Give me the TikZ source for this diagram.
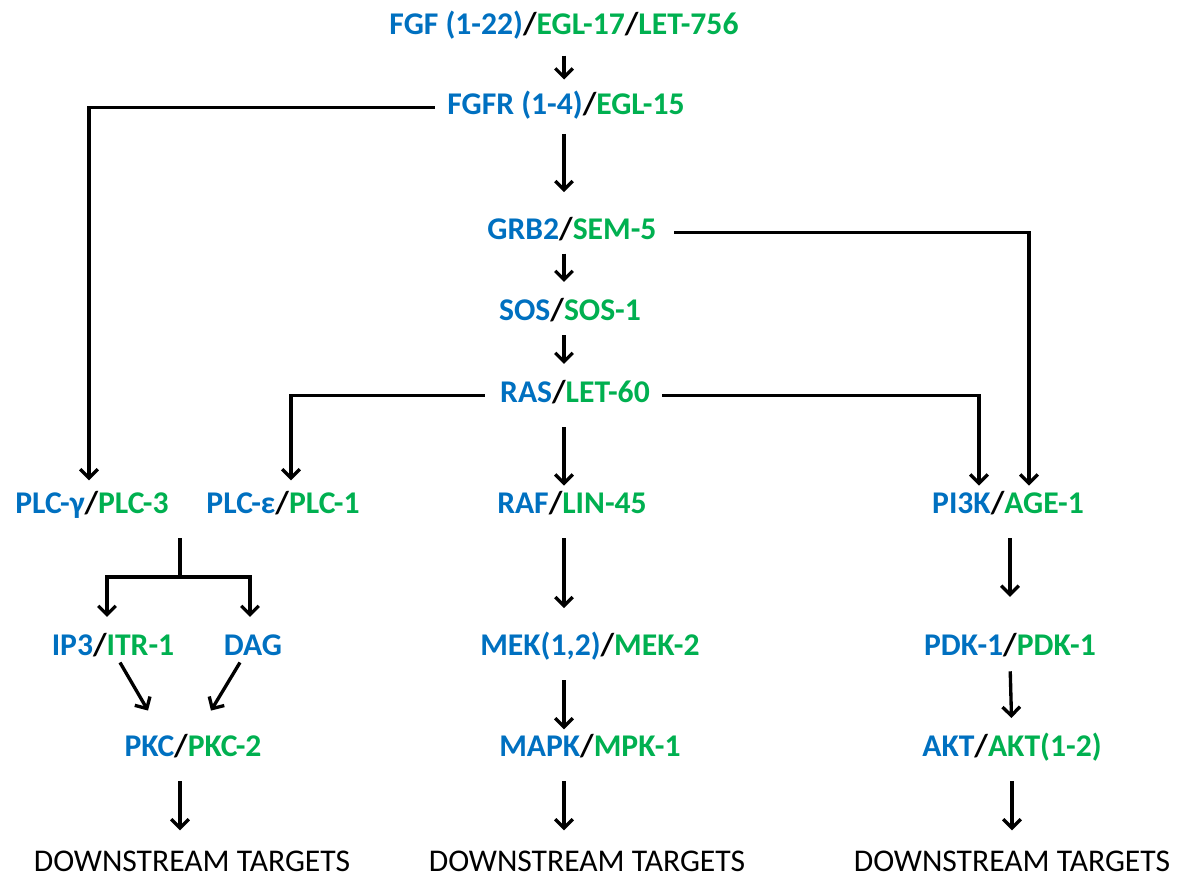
\documentclass[tikz,border=0pt]{standalone}
\usepackage{fontspec}
\setmainfont{Carlito}
\usetikzlibrary{arrows.meta, calc}
\definecolor{mamblue}{HTML}{0070C0}
\definecolor{wormgreen}{HTML}{00B050}
\newcommand{\mam}[1]{\textcolor{mamblue}{#1}}
\newcommand{\worm}[1]{\textcolor{wormgreen}{#1}}

\begin{document}
\begin{tikzpicture}[
    x=0.02cm, y=-0.02cm,
    prot/.style={anchor=base, inner sep=0pt, text height=12pt, text depth=3.5pt, font=\fontsize{18}{20}\selectfont\bfseries},
    target/.style={prot, text depth=0pt, font=\fontsize{18}{20}\selectfont},
    line/.style={line width=1.9pt},
    arr/.style={line, -{Straight Barb[length=5pt, width=10pt]}}
]
\useasboundingbox (0,0) rectangle (1178,881);

% ligand, receptor and adaptors
\node[prot] (fgf) at (564,35) {\mam{FGF (1-22)}/\worm{EGL-17}/\worm{LET-756}};
\node[prot] (fgfr) at (566,115) {\mam{FGFR (1-4)}/\worm{EGL-15}};
\node[prot] (grb) at (572,240) {\mam{GRB2}/\worm{SEM-5}};
\node[prot] (sos) at (570,321) {\mam{SOS}/\worm{SOS-1}};
\node[prot] (ras) at (575,403) {\mam{RAS}/\worm{LET-60}};

% effectors
\node[prot] (plcg) at (92,514) {\mam{PLC-γ}/\worm{PLC-3}};
\node[prot] (plce) at (283,514) {\mam{PLC-ε}/\worm{PLC-1}};
\node[prot] (raf) at (572,514) {\mam{RAF}/\worm{LIN-45}};
\node[prot] (pik) at (1008,514) {\mam{PI3K}/\worm{AGE-1}};

% second level
\node[prot] (ip) at (113,656) {\mam{IP3}/\worm{ITR-1}};
\node[prot] (dag) at (253,656) {\mam{DAG}};
\node[prot] (mek) at (590,656) {\mam{MEK(1,2)}/\worm{MEK-2}};
\node[prot] (pdk) at (1010,656) {\mam{PDK-1}/\worm{PDK-1}};

% kinases
\node[prot] (pkc) at (193,757) {\mam{PKC}/\worm{PKC-2}};
\node[prot] (mapk) at (590,757) {\mam{MAPK}/\worm{MPK-1}};
\node[prot] (akt) at (1012,757) {\mam{AKT}/\worm{AKT(1-2)}};

% targets
\node[target] (dsl) at (192,872) {DOWNSTREAM TARGETS};
\node[target] (dsm) at (587,872) {DOWNSTREAM TARGETS};
\node[target] (dsr) at (1012,872) {DOWNSTREAM TARGETS};

% main column
\draw[arr, shorten <=8pt, shorten >=8pt] (fgf.south) -- (fgfr.north -| fgf.south);
\draw[arr, shorten <=7pt, shorten >=15pt] (fgfr.south -| fgf.south) -- (grb.north -| fgf.south);
\draw[arr, shorten <=4pt, shorten >=10pt] (grb.south -| fgf.south) -- (sos.north -| fgf.south);
\draw[arr, shorten <=4.5pt, shorten >=10pt] (sos.south -| fgf.south) -- (ras.north -| fgf.south);
\draw[arr, shorten <=10pt, shorten >=4pt] (ras.south -| fgf.south) -- (raf.north -| fgf.south);
\draw[arr, shorten <=10pt, shorten >=15pt] (raf.south -| fgf.south) -- (mek.north -| fgf.south);
\draw[arr, shorten <=10pt, shorten >=3.5pt] (mek.south -| fgf.south) -- (mapk.north -| fgf.south);
\draw[arr, shorten <=10pt, shorten >=11.5pt] (mapk.south -| fgf.south) -- (dsm.north -| fgf.south);

% side branches
\draw[arr, shorten <=7pt, shorten >=7pt] (fgfr.west) -| ($(plcg.north)+(-3,0)$);
\draw[arr, shorten <=8.5pt, shorten >=7pt] (ras.west) -| ($(plce.north)+(8,0)$);
\draw[arr, shorten <=7pt, shorten >=4pt] (ras.east) -| ($(pik.north)+(-29,0)$);
\draw[arr, shorten <=10pt, shorten >=4pt] (grb.east) -| ($(pik.north)+(21,0)$);

% PI3K column
\draw[arr, shorten <=10pt, shorten >=21.5pt] (pik.south -| pdk.north) -- (pdk.north);
\draw[arr, shorten <=5pt, shorten >=10pt] (pdk.south) -- (akt.north);
\draw[arr, shorten <=10pt, shorten >=11.5pt] (akt.south) -- (dsr.north);

% PLC column
\coordinate (split) at (180,577);
\draw[line, shorten <=10pt] (plcg.south -| split) -- (split);
\draw[arr, shorten >=10pt] (split) -| ($(ip.north)+(-6,0)$);
\draw[arr, shorten >=10pt] (split) -| ($(dag.north)+(-3,0)$);
\draw[arr] ($(ip.south)+(7,0)$) -- ($(pkc.north)+(-45,-25)$);
\draw[arr] ($(dag.south)+(-13,0)$) -- ($(pkc.north)+(18,-25)$);
\draw[arr, shorten <=10pt, shorten >=11.5pt] (pkc.south -| split) -- (dsl.north -| split);
\end{tikzpicture}
\end{document}
